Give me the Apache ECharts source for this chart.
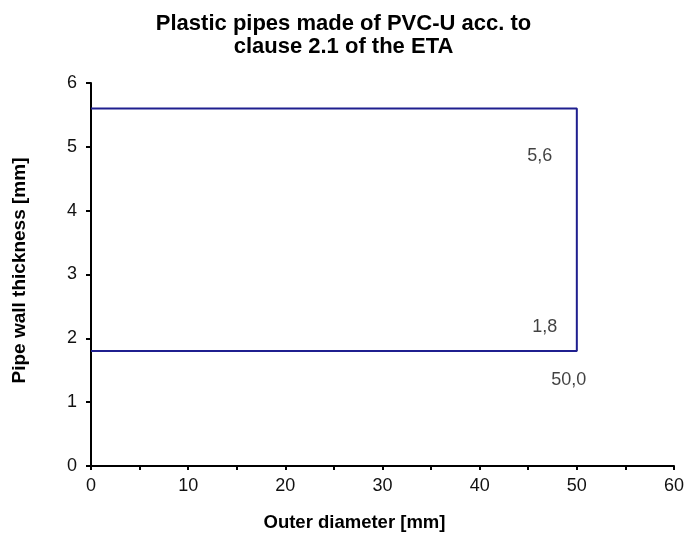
<!DOCTYPE html>
<html><head><meta charset="utf-8">
<script src="https://cdn.jsdelivr.net/npm/echarts@6/dist/echarts.min.js"></script>
<style>html,body{margin:0;padding:0;background:#fff}#c{width:687px;height:537px}</style>
</head><body><div id="c"></div>
<script>
var titleText = "Plastic pipes made of PVC-U acc. to\nclause 2.1 of the ETA";
var xName = "Outer diameter [mm]";
var yName = "Pipe wall thickness [mm]";
var outlineX = [0, 50, 50, 0];
var outlineY = [5.6, 5.6, 1.8, 1.8];
var xTicks = [0, 10, 20, 30, 40, 50, 60];
var yTicks = [0, 1, 2, 3, 4, 5, 6];

function fmt(v, d) { return v.toFixed(d).replace('.', ','); }
var lineData = outlineX.map(function (x, i) { return [x, outlineY[i]]; });
var font = "'Liberation Sans', Arial, sans-serif";
var chart = echarts.init(document.getElementById('c'));
chart.setOption({
  animation: false,
  title: { text: titleText, left: 'center', top: 7,
    textStyle: { fontFamily: font, fontSize: 22, fontWeight: 'bold', color: '#000', lineHeight: 23 } },
  grid: { left: 91, right: 11, top: 83, bottom: 70 },
  xAxis: { type: 'value', min: 0, max: 60, interval: 5,
    name: xName, nameLocation: 'middle', nameGap: 47,
    nameTextStyle: { fontFamily: font, fontSize: 18.5, fontWeight: 'bold', color: '#000', padding: [0, 56, 0, 0] },
    axisLine: { lineStyle: { color: '#000', width: 2 } },
    axisTick: { show: true, length: 4, lineStyle: { color: '#000', width: 2 } },
    axisLabel: { fontFamily: font, fontSize: 18, color: '#111', margin: 11,
      formatter: function (v) { return xTicks.indexOf(v) >= 0 ? String(v) : ''; } },
    splitLine: { show: false } },
  yAxis: { type: 'value', min: 0, max: 6, interval: 1,
    name: yName, nameLocation: 'middle', nameGap: 62,
    nameTextStyle: { fontFamily: font, fontSize: 19, fontWeight: 'bold', color: '#000', padding: [0, 0, 0, 8] },
    axisLine: { show: true, lineStyle: { color: '#000', width: 2 } },
    axisTick: { show: true, length: 5, lineStyle: { color: '#000', width: 2 } },
    axisLabel: { fontFamily: font, fontSize: 18, color: '#111', margin: 14,
      formatter: function (v) { return yTicks.indexOf(v) >= 0 ? String(v) : ''; } },
    splitLine: { show: false } },
  series: [
    { type: 'line', data: lineData, symbol: 'none', lineStyle: { color: '#1f1f8f', width: 2 }, z: 3 },
    { type: 'scatter', symbolSize: 0, silent: true,
      data: [
        { value: lineData[1], label: { formatter: fmt(outlineY[1], 1), offset: [-37, 47] } },
        { value: lineData[2], label: { formatter: fmt(outlineY[2], 1), offset: [-32, -24] } },
        { value: lineData[2], label: { formatter: fmt(outlineX[2], 1), offset: [-8, 29] } }
      ],
      label: { show: true, position: 'inside', fontFamily: font, fontSize: 18, color: '#111' } }
  ]
});
</script></body></html>
